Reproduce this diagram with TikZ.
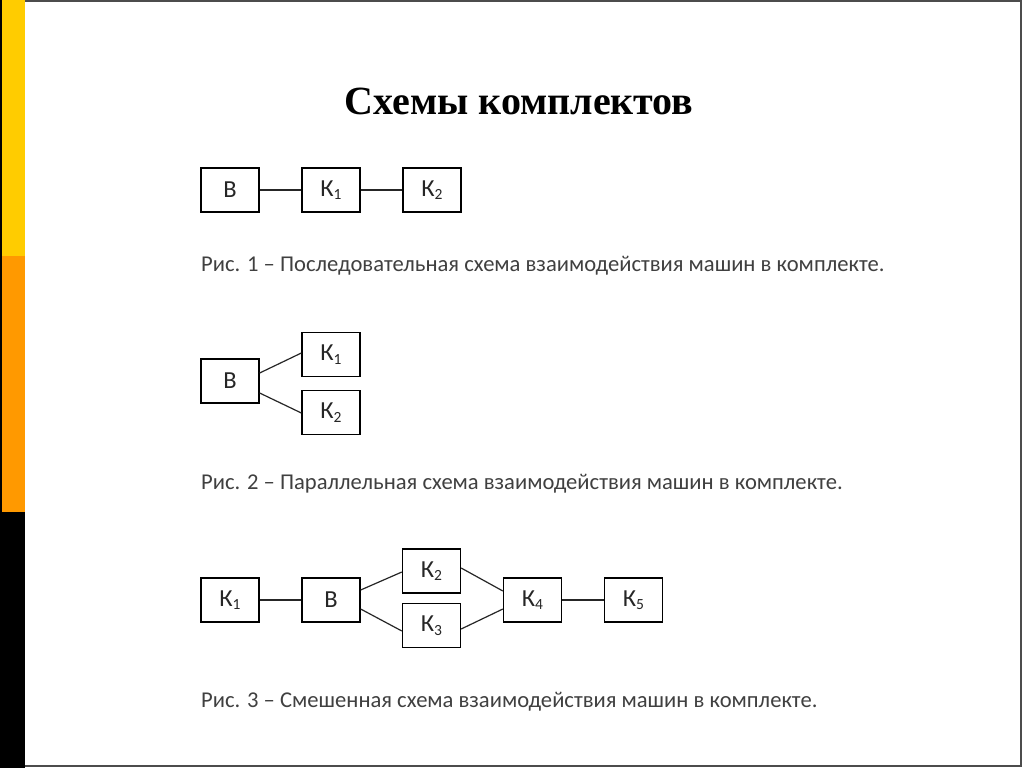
\documentclass[tikz,border=0pt]{standalone}
\usepackage{fontspec}
\setmainfont{Carlito}
\newfontfamily\titlefont{Liberation Serif}
\newcommand{\sbs}[1]{\raisebox{-0.3ex}{\fontsize{15.5}{16}\selectfont #1}}
\begin{document}
\begin{tikzpicture}[x=1pt,y=-1pt,
  box/.style={draw=black,line width=1.3pt,minimum width=58pt,minimum height=44pt,inner sep=0pt,font=\fontsize{24.5}{25}\selectfont,text=black!85},
  link/.style={draw=black!85,line width=1.2pt},
  captext/.style={anchor=west,inner sep=0pt,font=\fontsize{22.6}{24}\selectfont,text=black!75}]
\useasboundingbox (0,0) rectangle (1024,768);
\fill[white] (0,0) rectangle (1024,768);
% left bar
\fill[black] (0,0) rectangle (2,768);
\fill[fill={rgb,255:red,255;green,204;blue,0}] (2,0) rectangle (25,256);
\fill[fill={rgb,255:red,255;green,153;blue,0}] (2,256) rectangle (25,512);
\fill[black] (2,512) rectangle (25,768);
% frame
\draw[black!70,line width=1.2pt] (25,1) -- (1021,1) -- (1021,766) -- (25,766);
% title
\node[inner sep=0pt,font=\titlefont\bfseries\fontsize{40}{44}\selectfont] (title) at (519,101) {Схемы комплектов};
% Fig 1
\node[box] (a1) at (230,190) {В};
\node[box] (a2) at (331,190) {К\sbs{1}};
\node[box] (a3) at (432,190) {К\sbs{2}};
\draw[link] (a1) -- (a2);
\draw[link] (a2) -- (a3);
\node[captext] (c1) at (201,266) {Рис. 1 – Последовательная схема взаимодействия машин в комплекте.};
% Fig 2
\node[box] (b1) at (230,381) {В};
\node[box] (b2) at (331,354.5) {К\sbs{1}};
\node[box] (b3) at (331,412.5) {К\sbs{2}};
\draw[link] (b1.east |- 0,373) -- (b2.west |- 0,353);
\draw[link] (b1.east |- 0,393) -- (b3.west |- 0,413);
\node[captext] (c2) at (201,484) {Рис. 2 – Параллельная схема взаимодействия машин в комплекте.};
% Fig 3
\node[box] (d1) at (230,600) {К\sbs{1}};
\node[box] (d2) at (331,600) {В};
\node[box] (d3) at (431.5,571) {К\sbs{2}};
\node[box] (d4) at (431.5,625.5) {К\sbs{3}};
\node[box] (d5) at (532.5,600) {К\sbs{4}};
\node[box] (d6) at (633.5,600) {К\sbs{5}};
\draw[link] (d1) -- (d2);
\draw[link] (d5) -- (d6);
\draw[link] (d2.east |- 0,590) -- (d3.west |- 0,572);
\draw[link] (d2.east |- 0,609) -- (d4.west |- 0,631);
\draw[link] (d3.east |- 0,568) -- (d5.west |- 0,591);
\draw[link] (d4.east |- 0,629) -- (d5.west |- 0,609);
\node[captext] (c3) at (201,702) {Рис. 3 – Смешенная схема взаимодействия машин в комплекте.};
\end{tikzpicture}
\end{document}
